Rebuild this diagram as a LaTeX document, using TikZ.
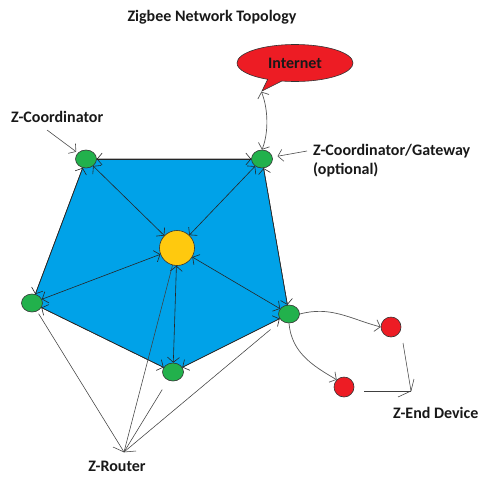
\documentclass[tikz,border=0pt]{standalone}
\usepackage{fontspec}
\setmainfont{Carlito}
\usetikzlibrary{arrows.meta,shapes.geometric,shapes.callouts}
\definecolor{pblue}{HTML}{00A2E8}
\definecolor{pgreen}{HTML}{22B14C}
\definecolor{pyellow}{HTML}{FFC90E}
\definecolor{pred}{HTML}{ED1C24}
\begin{document}
\begin{tikzpicture}[x=1pt,y=-1pt,
  lbl/.style={font=\fontsize{16}{18}\selectfont\bfseries, text=black!90, inner sep=0pt},
  gnode/.style={ellipse, draw=black!80, line width=0.6pt, fill=pgreen, minimum width=21pt, minimum height=18pt, inner sep=0pt},
  rnode/.style={circle, draw=black!80, line width=0.6pt, fill=pred, minimum size=20pt, inner sep=0pt},
  ynode/.style={circle, draw=black!80, line width=0.6pt, fill=pyellow, minimum size=35pt, inner sep=0pt},
  tip/.tip={Straight Barb[length=5pt,width=12pt]},
  link/.style={draw=black!85, line width=0.6pt, tip-tip},
  curv/.style={draw=black!65, line width=0.7pt},
  plain/.style={draw=black!75, line width=0.55pt},
  ptr/.style={draw=black!70, line width=0.6pt, -tip}
]
\useasboundingbox (0,0) rectangle (481,477);
\fill[white] (0,0) rectangle (481,477);

% positions
\coordinate (pTL) at (86,159);
\coordinate (pTR) at (262,159);
\coordinate (pL) at (32,303);
\coordinate (pR) at (289,314);
\coordinate (pB) at (173,372);

% blue area
\filldraw[fill=pblue, draw=black!80, line width=0.6pt] (pTL) -- (pTR) -- (pR) -- (pB) -- (pL) -- cycle;

% nodes
\node[gnode] (tl) at (pTL) {};
\node[gnode] (tr) at (pTR) {};
\node[gnode] (lg) at (pL) {};
\node[gnode] (rg) at (pR) {};
\node[gnode] (bg) at (pB) {};
\node[ynode] (c) at (177,248) {};
\node[rnode] (e1) at (391,327) {};
\node[rnode] (e2) at (344,387) {};
\node[ellipse callout, draw=black!80, line width=0.6pt, fill=pred,
      minimum width=116pt, minimum height=37pt, inner sep=0pt,
      callout absolute pointer={(262,91)}, lbl] (inet) at (295,63) {Internet};

% links
\draw[link] (c) -- (tl);
\draw[link] (c) -- (tr);
\draw[link] (c) -- (lg);
\draw[link] (c) -- (rg);
\draw[link] (c) -- (bg);
\draw[link] (tl) -- (tr);
\draw[link] (tr) -- (rg);
\draw[link] (rg) -- (bg);
\draw[link] (bg) -- (lg);
\draw[link] (lg) -- (tl);

% gateway to internet
\draw[curv, tip-tip] (tr.north) .. controls (269,132) and (268,108) .. (inet.pointer);

% end devices
\draw[curv, -tip] (rg.east) to[out=15, in=165] (e1.west);
\draw[curv, -tip] (rg.south) to[out=-85, in=150] (e2.north west);

% labels
\node[lbl] (title) at (212,17) {Zigbee Network Topology};
\node[lbl, anchor=west] (lcoord) at (11,117) {Z-Coordinator};
\node[lbl, anchor=west] (lgw) at (313,151) {Z-Coordinator/Gateway};
\node[lbl, anchor=west] (lopt) at (313,170) {(optional)};
\node[lbl, anchor=west] (lend) at (393,413) {Z-End Device};
\node[lbl] (lrouter) at (117,466) {Z-Router};

% label pointers
\coordinate (a1) at (47,130);
\draw[ptr, shorten >=2pt] (a1) -- (tl);
\coordinate (a2) at (307,151);
\draw[ptr, shorten >=5pt] (a2) -- (tr);

% router pointers
\coordinate (rt) at (124,452);
\draw[plain, shorten <=3pt] (lg) -- (rt);
\draw[plain] (c) -- (rt);
\draw[plain, shorten <=11pt] (bg) -- (rt);
\draw[plain, shorten <=14pt] (rg) -- (rt);
\draw[plain] (113,447) -- (rt) -- (136,451);

% end device pointers
\coordinate (ed) at (411,391);
\coordinate (s1) at (403,343);
\coordinate (s2) at (364,391);
\draw[plain] (s1) -- (ed);
\draw[plain] (s2) -- (ed);
\draw[plain] (414,379) -- (ed) -- (398,397);
\end{tikzpicture}
\end{document}
